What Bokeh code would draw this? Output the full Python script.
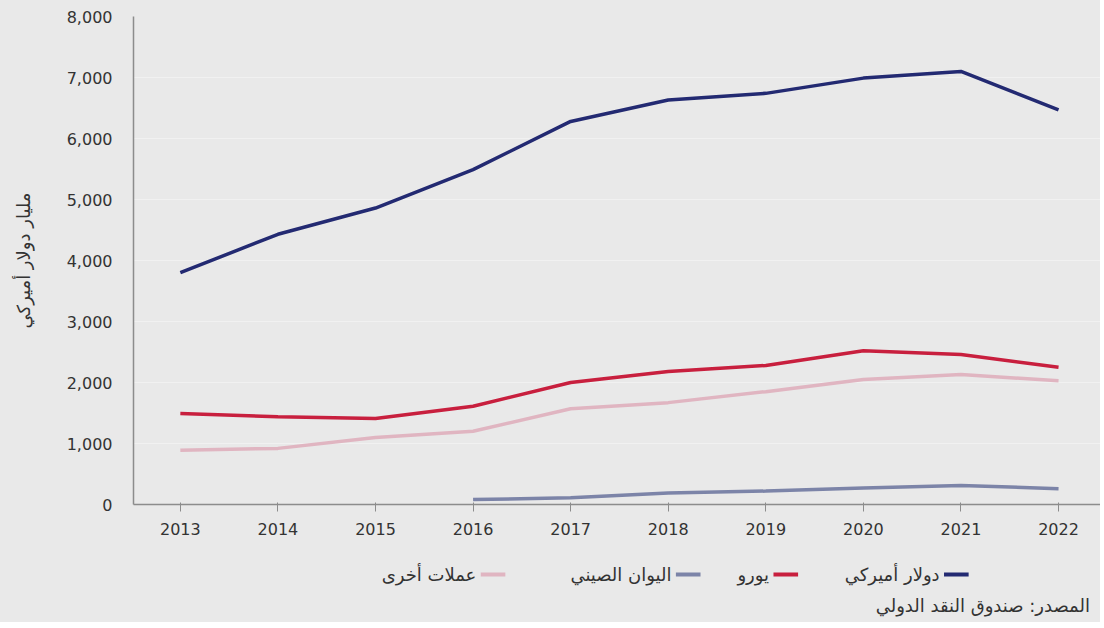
from bokeh.plotting import figure
from bokeh.layouts import column
from bokeh.models import Range1d, FixedTicker, NumeralTickFormatter
from bokeh.core.properties import value
from bokeh.embed import file_html
from bokeh.resources import INLINE

# ---- data ----
years = [2013, 2014, 2015, 2016, 2017, 2018, 2019, 2020, 2021, 2022]
usd = [3800, 4430, 4860, 5490, 6280, 6630, 6740, 6990, 7100, 6470]
eur = [1490, 1440, 1410, 1610, 2000, 2180, 2280, 2520, 2460, 2250]
other = [890, 920, 1100, 1200, 1570, 1670, 1850, 2050, 2130, 2030]
cny_years = [2016, 2017, 2018, 2019, 2020, 2021, 2022]
cny = [80, 110, 190, 220, 270, 310, 260]
y_ticks = [0, 1000, 2000, 3000, 4000, 5000, 6000, 7000, 8000]

series_names = ["دولار أميركي", "يورو", "اليوان الصيني", "عملات أخرى"]
y_label = "مليار دولار أميركي"
source_note = "المصدر: صندوق النقد الدولي"

# ---- styles ----
BG = "#e9e9e9"
C_USD = "#232a72"
C_EUR = "#c81f3e"
C_CNY = "#7c84a8"
C_OTH = "#e0b5c1"
colors = [C_USD, C_EUR, C_CNY, C_OTH]
TXT = "#333333"
FONT = "DejaVu Sans"

p = figure(width=1100, height=548, output_backend="svg", toolbar_location=None,
           x_range=Range1d(2012.52, 2022.43), y_range=Range1d(0, 8000),
           min_border_left=133, min_border_right=0, min_border_top=16, min_border_bottom=44)
p.background_fill_color = BG
p.border_fill_color = BG
p.outline_line_color = None

lw = 3.5
p.line(years, other, line_color=C_OTH, line_width=lw)
p.line(cny_years, cny, line_color=C_CNY, line_width=lw)
p.line(years, eur, line_color=C_EUR, line_width=lw)
p.line(years, usd, line_color=C_USD, line_width=lw)

p.xgrid.grid_line_color = None
p.ygrid.grid_line_color = "#f1f1f1"
p.ygrid.grid_line_width = 1.2

p.xaxis.ticker = FixedTicker(ticks=years)
p.yaxis.ticker = FixedTicker(ticks=y_ticks)
p.yaxis.formatter = NumeralTickFormatter(format="0,0")
for ax in (p.xaxis[0], p.yaxis[0]):
    ax.axis_line_color = "#8c8c8c"
    ax.axis_line_width = 1.5
    ax.minor_tick_line_color = None
    ax.major_label_text_font = FONT
    ax.major_label_text_font_size = "16px"
    ax.major_label_text_color = TXT
p.yaxis.major_tick_line_color = None
p.yaxis.major_tick_out = 0
p.yaxis.major_label_standoff = 21
p.xaxis.major_tick_line_color = "#8c8c8c"
p.xaxis.major_tick_out = 7
p.xaxis.major_tick_in = 2
p.xaxis.major_label_standoff = 11
p.yaxis.axis_label = y_label
p.yaxis.axis_label_text_font = FONT
p.yaxis.axis_label_text_font_style = "normal"
p.yaxis.axis_label_text_font_size = "18px"
p.yaxis.axis_label_text_color = TXT
p.yaxis.axis_label_standoff = 30

# ---- legend / source strip (pixel coordinates) ----
leg = figure(width=1100, height=74, output_backend="svg", toolbar_location=None,
             x_range=Range1d(0, 1100), y_range=Range1d(74, 0),
             x_axis_type=None, y_axis_type=None,
             min_border=0, min_border_left=0, min_border_right=0,
             min_border_top=0, min_border_bottom=0)
leg.background_fill_color = BG
leg.border_fill_color = BG
leg.outline_line_color = None
leg.grid.grid_line_color = None

sw_left = [922, 728, 617, 395]
sw_w = 28
row_y = 26
leg.segment(x0=sw_left, y0=[row_y] * 4, x1=[s + sw_w for s in sw_left], y1=[row_y] * 4,
            line_color=colors, line_width=4)
leg.text(x=[s - 5 for s in sw_left], y=[row_y] * 4, text=series_names,
         text_font=value(FONT), text_font_size="18px", text_color=TXT,
         text_align="right", text_baseline="middle")
leg.text(x=[1088], y=[57], text=[source_note],
         text_font=value(FONT), text_font_size="18px", text_color=TXT,
         text_align="right", text_baseline="middle")

layout = column(p, leg, spacing=0)
layout.background = BG

with open("out.html", "w") as f:
    f.write(file_html(layout, INLINE))
